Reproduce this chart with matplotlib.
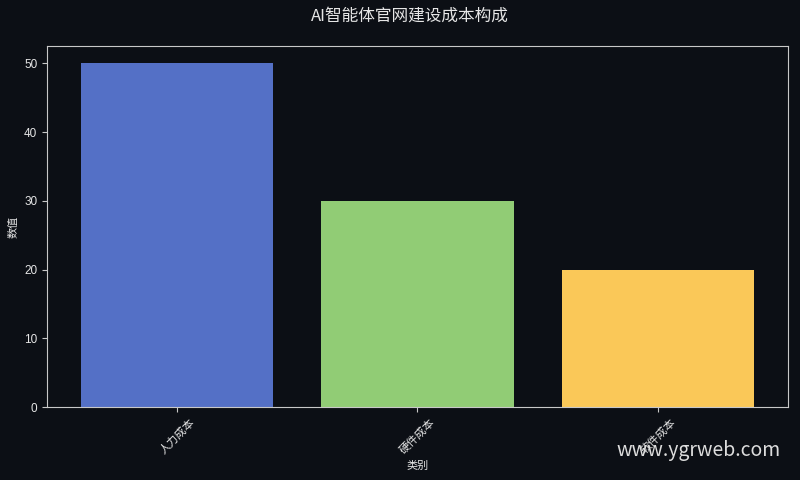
import matplotlib
matplotlib.use("Agg")
import matplotlib.pyplot as plt

# -------- DATA --------
categories = ["人力成本", "硬件成本", "软件成本"]
values = [50, 30, 20]
bar_colors = ["#5470c6", "#91cc75", "#fac858"]

BG = "#0c0f15"
FG = "#e6e6e6"
SPINE = "#c8c8c8"
CJK = ['Noto Sans CJK SC', 'DejaVu Sans']

plt.rcParams['font.family'] = ['Liberation Sans', 'Noto Sans CJK SC', 'DejaVu Sans']

fig = plt.figure(figsize=(8, 4.8), dpi=100, facecolor=BG)
ax = fig.add_axes([0.05875, 0.152, 0.926, 0.752])
ax.set_facecolor(BG)

ax.bar(categories, values, color=bar_colors, width=0.8)

for s in ax.spines.values():
    s.set_color(SPINE)

ax.tick_params(axis='both', colors=SPINE, labelcolor=FG, labelsize=8)
ax.tick_params(axis='y', labelsize=8.5)
plt.setp(ax.get_xticklabels(), rotation=45, family=CJK)

ax.set_xlabel("类别", color=FG, fontsize=8, family=CJK)
ax.set_ylabel("数值", color=FG, fontsize=8, family=CJK)
fig.suptitle("AI智能体官网建设成本构成", color=FG, fontsize=12, x=0.512, y=0.985,
             family=CJK)

fig.text(0.976, 0.062, "www.ygrweb.com", color="#dddddd", fontsize=14,
         ha='right', va='center', family=CJK)

fig.savefig("out.png", dpi=100, facecolor=BG)
